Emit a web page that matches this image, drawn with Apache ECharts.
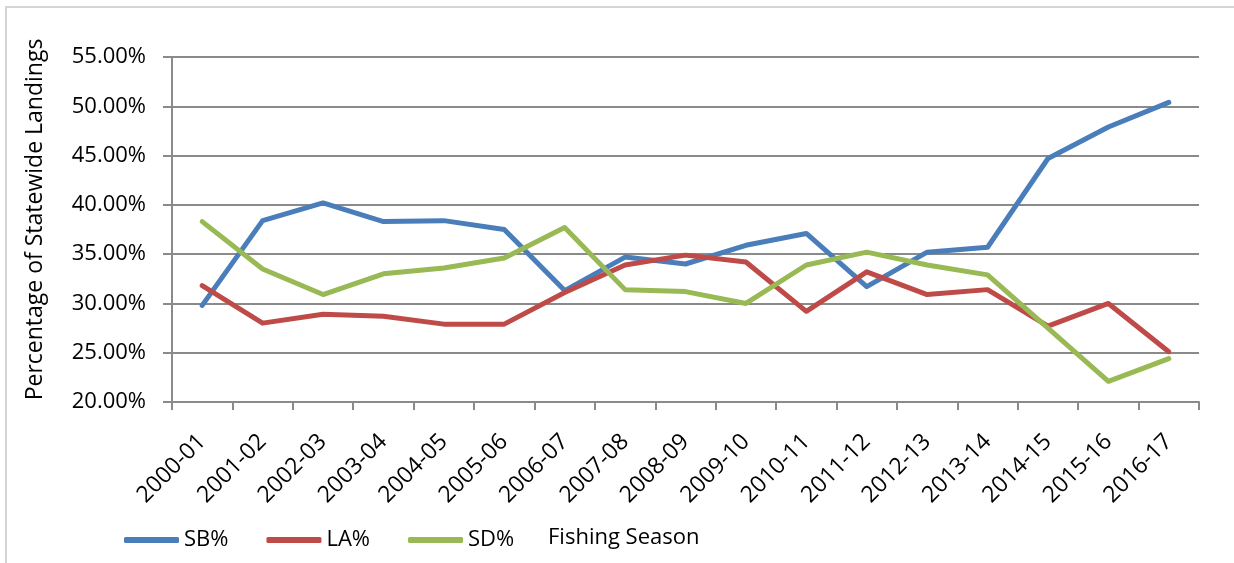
<!DOCTYPE html>
<html>
<head>
<meta charset="utf-8">
<title>Percentage of Statewide Landings</title>
<script src="https://cdn.jsdelivr.net/npm/echarts@6/dist/echarts.min.js"></script>
<style>
  html, body { margin: 0; padding: 0; background: #fff; }
  #chart { width: 1234px; height: 563px; }
</style>
</head>
<body>
<div id="chart"></div>
<script>
var seasons = ["2000-01", "2001-02", "2002-03", "2003-04", "2004-05", "2005-06", "2006-07", "2007-08", "2008-09",
  "2009-10", "2010-11", "2011-12", "2012-13", "2013-14", "2014-15", "2015-16", "2016-17"];
var sbPct = [29.8, 38.4, 40.2, 38.3, 38.4, 37.5, 31.3, 34.7, 34.0, 35.9, 37.1, 31.7, 35.2, 35.7, 44.7, 47.9, 50.4];
var laPct = [31.8, 28.0, 28.9, 28.7, 27.9, 27.9, 31.1, 33.9, 34.9, 34.2, 29.2, 33.2, 30.9, 31.4, 27.7, 30.0, 25.1];
var sdPct = [38.3, 33.5, 30.9, 33.0, 33.6, 34.6, 37.7, 31.4, 31.2, 30.0, 33.9, 35.2, 33.9, 32.9, 27.5, 22.1, 24.4];
var yTicks = { min: 20, max: 55, step: 5 };

var font = "'Open Sans', sans-serif";
var gridColor = "#8a8a8a";

var chart = echarts.init(document.getElementById("chart"));

function lineSeries(name, data, color) {
  return {
    name: name,
    type: "line",
    data: data,
    symbol: "none",
    smooth: false,
    lineStyle: { color: color, width: 5, cap: "round", join: "round" },
    itemStyle: { color: color }
  };
}

chart.setOption({
  animation: false,
  textStyle: { fontFamily: font },
  grid: { left: 172, right: 35, top: 57, bottom: 161 },
  legend: {
    left: 119,
    top: 524,
    icon: "roundRect",
    itemWidth: 55,
    itemHeight: 6,
    itemGap: 38,
    selectedMode: false,
    textStyle: { fontSize: 22, color: "#000", fontFamily: font },
    data: ["SB%", "LA%", "SD%"]
  },
  xAxis: {
    type: "category",
    boundaryGap: true,
    data: seasons,
    axisLine: { show: true, lineStyle: { color: gridColor, width: 2 } },
    axisTick: { show: true, interval: 0, length: 8, lineStyle: { color: gridColor, width: 2 } },
    axisLabel: {
      interval: 0,
      rotate: 45,
      margin: 36,
      fontSize: 23,
      color: "#000",
      fontFamily: font
    },
    splitLine: { show: false }
  },
  yAxis: {
    type: "value",
    min: yTicks.min,
    max: yTicks.max,
    interval: yTicks.step,
    name: "Percentage of Statewide Landings",
    nameLocation: "middle",
    nameGap: 125,
    nameRotate: 90,
    nameTextStyle: { fontSize: 23, color: "#000", fontFamily: font, padding: [0, 0, 0, 20] },
    axisLine: { show: true, lineStyle: { color: gridColor, width: 2 } },
    axisTick: { show: true, length: 9, lineStyle: { color: gridColor, width: 2 } },
    axisLabel: {
      margin: 26,
      fontSize: 22,
      color: "#000",
      fontFamily: font,
      formatter: function (v) { return v.toFixed(2) + "%"; }
    },
    splitLine: { show: true, lineStyle: { color: gridColor, width: 2 } }
  },
  graphic: [
    {
      type: "rect",
      shape: { x: 6, y: 7, width: 1400, height: 800 },
      style: { fill: "none", stroke: "#d4d4d4", lineWidth: 2 },
      silent: true
    },
    {
      type: "text",
      left: 548,
      top: 527,
      style: { text: "Fishing Season", fontSize: 22, fill: "#000", fontFamily: font }
    }
  ],
  series: [
    lineSeries("SB%", sbPct, "#4a7ebb"),
    lineSeries("LA%", laPct, "#be4b48"),
    lineSeries("SD%", sdPct, "#98b954")
  ]
});
</script>
</body>
</html>
